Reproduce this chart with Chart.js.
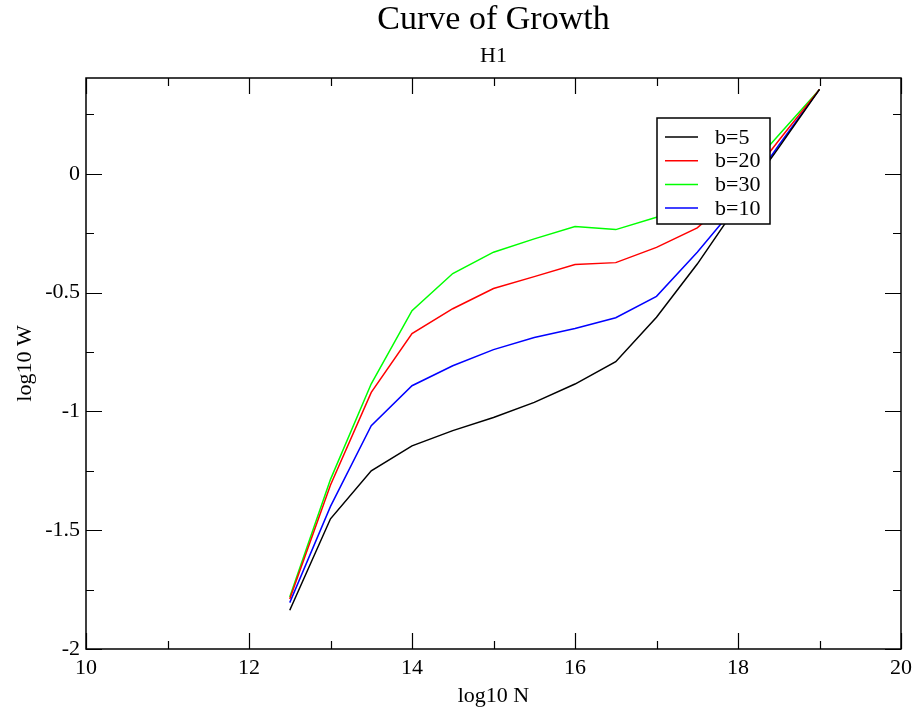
<!DOCTYPE html>
<html>
<head>
<meta charset="utf-8">
<title>Curve of Growth</title>
<script src="https://cdn.jsdelivr.net/npm/chart.js@4.4.0/dist/chart.umd.min.js"></script>
<style>
  body { margin: 0; background: #fff; }
  #wrap { width: 918px; height: 709px; }
</style>
</head>
<body>
<div id="wrap"><canvas id="cog" width="918" height="709"></canvas></div>
<script>
// donnees
const logN = [12.5, 13, 13.5, 14, 14.5, 15, 15.5, 16, 16.5, 17, 17.5, 18, 18.5, 19];
const wB5  = [-1.837, -1.452, -1.25, -1.145, -1.081, -1.026, -0.962, -0.885, -0.791, -0.604, -0.38, -0.13, 0.11, 0.355];
const wB20 = [-1.79, -1.31, -0.92, -0.673, -0.568, -0.483, -0.433, -0.382, -0.374, -0.31, -0.228, -0.08, 0.14, 0.355];
const wB30 = [-1.781, -1.286, -0.884, -0.576, -0.42, -0.33, -0.274, -0.222, -0.235, -0.183, -0.11, -0.03, 0.163, 0.355];
const wB10 = [-1.805, -1.40, -1.06, -0.892, -0.808, -0.74, -0.689, -0.651, -0.606, -0.516, -0.33, -0.125, 0.12, 0.355];
const seriesNames = ['b=5', 'b=20', 'b=30', 'b=10'];
const seriesColors = ['#000000', '#ff0000', '#00ff00', '#0000ff'];

const xMin = 10, xMax = 20, xMajor = 2, xMinor = 1;
const yMin = -2, yMax = 0.403, yMajor = 0.5, yMinor = 0.25;

const serif = "'Liberation Serif', 'DejaVu Serif', serif";

function pts(ys) {
    return logN.map((x, i) => ({ x: x, y: ys[i] }));
}

// cadre, graduations interieures, titres et legende
const framePlugin = {
    id: 'frame',
    afterDraw(chart) {
        const ctx = chart.ctx;
        const a = chart.chartArea;
        const xs = chart.scales.x;
        const ys = chart.scales.y;
        ctx.save();
        ctx.strokeStyle = '#000';
        ctx.lineWidth = 1.5;
        ctx.strokeRect(a.left, a.top, a.right - a.left, a.bottom - a.top);

        ctx.lineWidth = 1.2;
        ctx.beginPath();
        for (let v = xMin; v <= xMax + 1e-9; v += xMinor) {
            const len = (Math.abs(v / xMajor - Math.round(v / xMajor)) < 1e-6) ? 16 : 8;
            const px = Math.round(xs.getPixelForValue(v)) + 0.5;
            ctx.moveTo(px, a.bottom); ctx.lineTo(px, a.bottom - len);
            ctx.moveTo(px, a.top); ctx.lineTo(px, a.top + len);
        }
        for (let v = yMin; v <= yMax + 1e-9; v += yMinor) {
            const len = (Math.abs(v / yMajor - Math.round(v / yMajor)) < 1e-6) ? 16 : 8;
            const py = Math.round(ys.getPixelForValue(v)) + 0.5;
            ctx.moveTo(a.left, py); ctx.lineTo(a.left + len, py);
            ctx.moveTo(a.right, py); ctx.lineTo(a.right - len, py);
        }
        ctx.stroke();

        // titres
        const cx = (a.left + a.right) / 2;
        ctx.fillStyle = '#000';
        ctx.textAlign = 'center';
        ctx.textBaseline = 'middle';
        ctx.font = '34px ' + serif;
        ctx.fillText('Curve of Growth', cx, 20);
        ctx.font = '22px ' + serif;
        ctx.fillText('H1', cx, 56);

        // legende
        const bx = 657, by = 118, bw = 113, bh = 106;
        ctx.fillStyle = '#fff';
        ctx.fillRect(bx, by, bw, bh);
        ctx.lineWidth = 1.5;
        ctx.strokeStyle = '#000';
        ctx.strokeRect(bx, by, bw, bh);
        ctx.font = '22px ' + serif;
        ctx.textAlign = 'left';
        chart.data.datasets.forEach((ds, i) => {
            const ry = by + 19 + i * 23.7;
            ctx.strokeStyle = ds.borderColor;
            ctx.lineWidth = 1.5;
            ctx.beginPath();
            ctx.moveTo(bx + 8, ry); ctx.lineTo(bx + 41, ry);
            ctx.stroke();
            ctx.fillStyle = '#000';
            ctx.fillText(ds.label, bx + 58, ry + 1);
        });
        ctx.restore();
    }
};

const ctx = document.getElementById('cog').getContext('2d');
const chart = new Chart(ctx, {
    type: 'scatter',
    data: {
        datasets: [wB5, wB20, wB30, wB10].map((ys, i) => ({
            label: seriesNames[i],
            data: pts(ys),
            showLine: true,
            borderColor: seriesColors[i],
            backgroundColor: seriesColors[i],
            borderWidth: 1.5,
            pointRadius: 0,
            tension: 0
        }))
    },
    options: {
        responsive: false,
        animation: false,
        layout: { padding: { top: 78, right: 16, left: 0, bottom: 0 } },
        plugins: {
            legend: { display: false },
            tooltip: { enabled: false }
        },
        scales: {
            x: {
                type: 'linear',
                min: xMin,
                max: xMax,
                afterFit(scale) { scale.height = 60; },
                grid: { display: false, drawTicks: false },
                border: { display: false },
                ticks: {
                    stepSize: xMajor,
                    padding: 6,
                    color: '#000',
                    font: { family: serif, size: 22 },
                    maxRotation: 0
                },
                title: {
                    display: true,
                    text: 'log10 N',
                    color: '#000',
                    font: { family: serif, size: 22 },
                    padding: { top: 6, bottom: 0 }
                }
            },
            y: {
                type: 'linear',
                min: yMin,
                max: yMax,
                afterFit(scale) { scale.width = 86; },
                grid: { display: false, drawTicks: false },
                border: { display: false },
                ticks: {
                    stepSize: yMajor,
                    includeBounds: false,
                    padding: 6,
                    color: '#000',
                    font: { family: serif, size: 22 },
                    callback: function(v) { return String(v); }
                },
                title: {
                    display: true,
                    text: 'log10 W',
                    color: '#000',
                    font: { family: serif, size: 22 },
                    padding: { top: 12, bottom: 0 }
                }
            }
        }
    },
    plugins: [framePlugin]
});
</script>
</body>
</html>
